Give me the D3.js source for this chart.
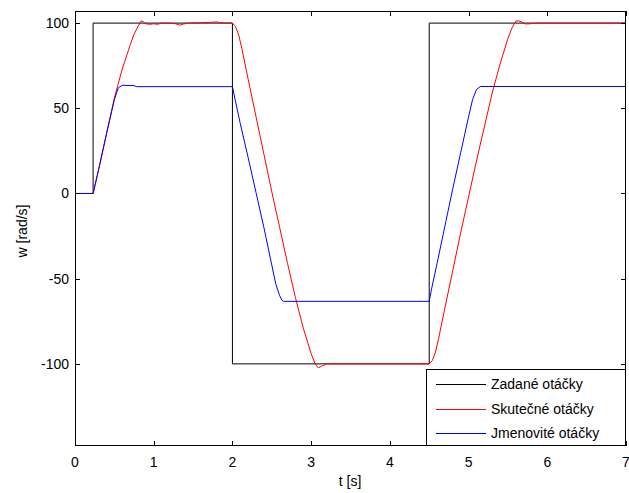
<!DOCTYPE html>
<html><head><meta charset="utf-8">
<script src="https://cdn.jsdelivr.net/npm/d3@7"></script>
<style>
body{margin:0;background:#fff;}
svg{display:block;font-family:"Liberation Sans",Arial,sans-serif;}
</style></head>
<body>
<script>
// ---- data ----
const xTicks = [0,1,2,3,4,5,6,7];
const yTicks = [-100,-50,0,50,100];
const seriesNames = ["Zadané otáčky","Skutečné otáčky","Jmenovité otáčky"];
const seriesColors = ["#000000","#ff0000","#0000ff"];

const tSet  = [0,0.23,0.23,2,2,4.5,4.5,7];
const wSet  = [0,0,100,100,-100,-100,100,100];

const tAct = [0,0.23,0.3,0.4,0.5,0.6,0.7,0.75,0.8,0.84,0.87,0.9,0.95,1.0,1.05,1.1,1.2,1.28,1.33,1.38,1.45,1.6,1.75,1.8,1.85,2.0,
  2.04,2.08,2.12,2.16,2.2,2.3,2.4,2.5,2.6,2.7,2.8,2.9,3.0,3.05,3.09,3.13,3.2,4.5,
  4.54,4.58,4.62,4.66,4.7,4.8,4.9,5.0,5.1,5.2,5.3,5.4,5.5,5.55,5.6,5.64,5.68,5.72,5.78,5.85,7];
const wAct = [0,0,14,35,56,73,87,93.5,98,101.3,100.8,99.6,99.3,99.6,99.3,100,100,99.6,98.8,99.5,100,100.2,100.5,100.7,100.2,100,
  98,93,85,76,67,45,23,1,-20,-41,-61,-79,-94,-100,-102.3,-101.5,-100,-100,
  -98,-93,-85,-76,-67,-45,-23,-2,19,39,59,76,91,97,101.2,101.3,100.5,99.5,99.6,100,100];

const tNom = [0,0.23,0.3,0.4,0.5,0.55,0.6,0.75,0.78,2.0,2.03,2.1,2.2,2.3,2.4,2.5,2.55,2.6,2.63,2.65,4.5,
  4.53,4.6,4.7,4.8,4.9,5.0,5.05,5.1,5.15,7];
const wNom = [0,0,14,35,55,62,63.5,63.3,62.7,62.7,56,41,21,0.5,-20,-42,-53,-60,-62.7,-63.3,-63.3,
  -56,-41,-19,3,24,45,55,61,62.8,62.8];

// ---- layout ----
const W=629,H=493;
const svg=d3.select("body").append("svg").attr("width",W).attr("height",H);
const L=75,R=626,T=11,B=446;
const x=d3.scaleLinear().domain([0,7]).range([L,R]);
const y=d3.scaleLinear().domain([-148.2,107.1]).range([B,T]);

svg.append("defs").append("clipPath").attr("id","clip")
  .append("rect").attr("x",L).attr("y",T).attr("width",R-L).attr("height",B-T);

const mk=(ts,ws)=>ts.map((t,i)=>[t,ws[i]]);
const line=d3.line().x(d=>x(d[0])).y(d=>y(d[1]));
const data=[mk(tSet,wSet),mk(tAct,wAct),mk(tNom,wNom)];
const g=svg.append("g").attr("clip-path","url(#clip)");
data.forEach((d,i)=>{
  g.append("path").attr("d",line(d)).attr("fill","none")
   .attr("stroke",seriesColors[i]).attr("stroke-width",1);
});

// axes box
svg.append("rect").attr("x",L+0.5).attr("y",T+0.5).attr("width",R-L-1).attr("height",B-T-1)
  .attr("fill","none").attr("stroke","#000").attr("stroke-width",1);

// ticks
const tl=5;
const ax=svg.append("g").attr("stroke","#000").attr("stroke-width",1);
xTicks.forEach(v=>{
  const px=Math.round(x(v))+0.5;
  ax.append("line").attr("x1",px).attr("x2",px).attr("y1",B).attr("y2",B-tl);
  ax.append("line").attr("x1",px).attr("x2",px).attr("y1",T).attr("y2",T+tl);
});
yTicks.forEach(v=>{
  const py=Math.round(y(v))+0.5;
  ax.append("line").attr("x1",L).attr("x2",L+tl).attr("y1",py).attr("y2",py);
  ax.append("line").attr("x1",R).attr("x2",R-tl).attr("y1",py).attr("y2",py);
});
const fs=14;
svg.append("g").selectAll("text").data(xTicks).join("text")
  .attr("x",d=>x(d)).attr("y",467).attr("text-anchor","middle")
  .attr("font-size",fs).text(d=>d);
svg.append("g").selectAll("text").data(yTicks).join("text")
  .attr("x",69).attr("y",d=>y(d)+5).attr("text-anchor","end")
  .attr("font-size",fs).text(d=>d);
svg.append("text").attr("x",350).attr("y",486).attr("text-anchor","middle")
  .attr("font-size",fs).text("t [s]");
svg.append("text").attr("transform","translate(27,231) rotate(-90)")
  .attr("text-anchor","middle").attr("font-size",fs).text("w [rad/s]");

// legend
const lg=svg.append("g");
lg.append("rect").attr("x",426.5).attr("y",369.5).attr("width",R-426-1).attr("height",B-369-1)
  .attr("fill","#fff").attr("stroke","#000");
const rows=[384,409,433];
seriesNames.forEach((n,i)=>{
  lg.append("line").attr("x1",436).attr("x2",486).attr("y1",rows[i]+0.5).attr("y2",rows[i]+0.5)
    .attr("stroke",seriesColors[i]);
  lg.append("text").attr("x",491).attr("y",rows[i]+5).attr("font-size",fs).text(n);
});
</script>
</body></html>
